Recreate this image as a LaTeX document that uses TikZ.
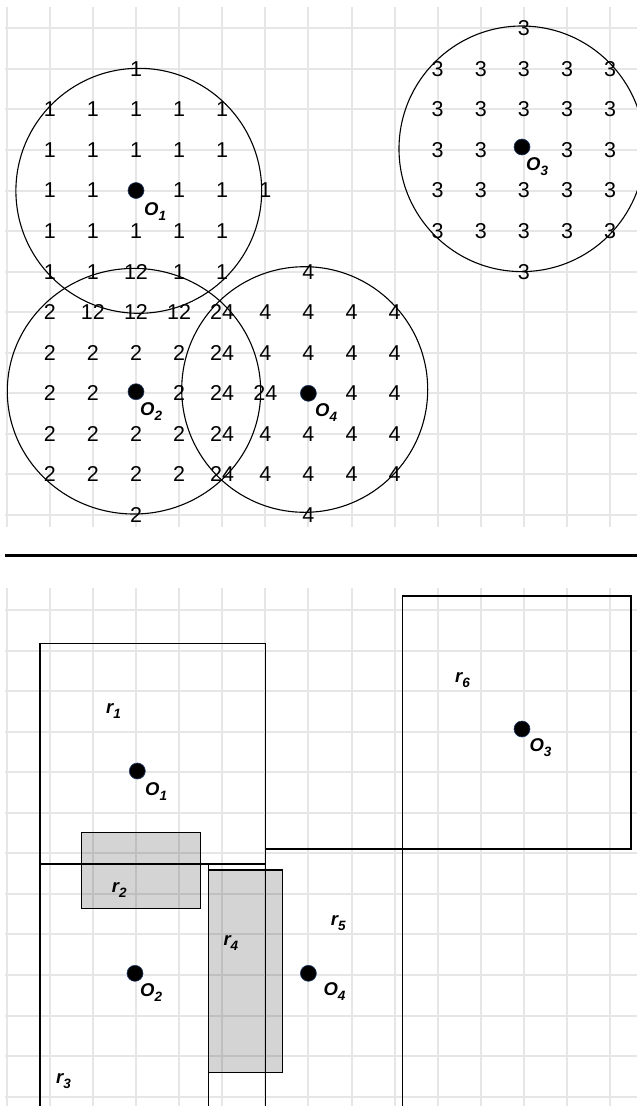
\documentclass[tikz,border=0pt]{standalone}
\usepackage{fontspec}
\setmainfont{Liberation Sans}
\definecolor{gridgray}{HTML}{E6E6E6}
\definecolor{dotblue}{HTML}{1F3A66}
\newcommand\lblsub[2]{{\fontsize{18.5}{18.5}\selectfont\bfseries\itshape #1\raisebox{-5pt}{\fontsize{13.5}{13.5}\selectfont #2}}}
\tikzset{
  gridline/.style={draw=gridgray, line width=2pt},
  cellnum/.style={font=\fontsize{21.5}{21.5}\selectfont, inner sep=0pt, anchor=center},
  ptdot/.style={circle, fill=black, draw=dotblue, line width=0.6pt, minimum size=16pt, inner sep=0pt},
  zone/.style={draw=black, line width=1.2pt},
  ring/.style={draw=black, line width=1.1pt},
  grayzone/.style={fill=black, fill opacity=0.17, draw=black, draw opacity=1, line width=1.2pt},
  lbltext/.style={inner sep=0pt, anchor=base west},
  sepline/.style={draw=black, line width=2.5pt},
}
\begin{document}
\begin{tikzpicture}[x=1pt,y=-1pt]
\useasboundingbox (0,0) rectangle (637,1106);
\clip (0,0) rectangle (637,1106);
% ---------- grids ----------
\foreach \k in {0,...,14}{
  \draw[gridline] ({6.7+43.1*\k},7) -- ({6.7+43.1*\k},527);
  \draw[gridline] ({6.7+43.1*\k},588.3) -- ({6.7+43.1*\k},1106);
}
\foreach \k in {0,...,12}{
  \draw[gridline] (5,{28.3+40.56*\k}) -- (637,{28.3+40.56*\k});
  \draw[gridline] (5,{610+40.56*\k}) -- (637,{610+40.56*\k});
}
% ---------- top: circles ----------
\draw[ring] (138.8,190.8) ellipse [x radius=122.9, y radius=122.5];
\draw[ring] (134,391.2) ellipse [x radius=126.7, y radius=122.8];
\draw[ring] (304.7,389.5) ellipse [x radius=123, y radius=122.8];
\draw[ring] (521.8,148.8) ellipse [x radius=122.8, y radius=122.8];
% ---------- top: numbers ----------
\foreach \c/\r/\t in {3/1/1,
  1/2/1,2/2/1,3/2/1,4/2/1,5/2/1,
  1/3/1,2/3/1,3/3/1,4/3/1,5/3/1,
  1/4/1,2/4/1,4/4/1,5/4/1,6/4/1,
  1/5/1,2/5/1,3/5/1,4/5/1,5/5/1,
  1/6/1,2/6/1,3/6/12,4/6/1,5/6/1,7/6/4,
  1/7/2,2/7/12,3/7/12,4/7/12,5/7/24,6/7/4,7/7/4,8/7/4,9/7/4,
  1/8/2,2/8/2,3/8/2,4/8/2,5/8/24,6/8/4,7/8/4,8/8/4,9/8/4,
  1/9/2,2/9/2,4/9/2,5/9/24,6/9/24,8/9/4,9/9/4,
  1/10/2,2/10/2,3/10/2,4/10/2,5/10/24,6/10/4,7/10/4,8/10/4,9/10/4,
  1/11/2,2/11/2,3/11/2,4/11/2,5/11/24,6/11/4,7/11/4,8/11/4,9/11/4,
  3/12/2,7/12/4,
  12/0/3,
  10/1/3,11/1/3,12/1/3,13/1/3,14/1/3,
  10/2/3,11/2/3,12/2/3,13/2/3,14/2/3,
  10/3/3,11/3/3,13/3/3,14/3/3,
  10/4/3,11/4/3,12/4/3,13/4/3,14/4/3,
  10/5/3,11/5/3,12/5/3,13/5/3,14/5/3,
  12/6/3}{
  \node[cellnum] (n-\c-\r) at ({6.7+43.1*\c},{28.3+40.56*\r}) {\t};
}
% ---------- top: points ----------
\node[ptdot] (tO1) at (136,190.5) {};
\node[ptdot] (tO2) at (136,391.7) {};
\node[ptdot] (tO3) at (522,147) {};
\node[ptdot] (tO4) at (308.4,393.3) {};
\node[lbltext] (ltO1) at (144,215) {\lblsub{O}{1}};
\node[lbltext] (ltO2) at (140,415) {\lblsub{O}{2}};
\node[lbltext] (ltO3) at (526,170) {\lblsub{O}{3}};
\node[lbltext] (ltO4) at (315,416.6) {\lblsub{O}{4}};
% ---------- separator ----------
\coordinate (sepL) at (5,555.7);
\coordinate (sepR) at (637,555.7);
\draw[sepline] (sepL) -- (sepR);
% ---------- bottom: regions ----------
\draw[zone] (40,1106) -- (40,643.3) -- (265.7,643.3) -- (265.7,1106);
\draw[zone] (40,864) -- (265.7,864);
\draw[zone] (208.3,864) -- (208.3,1106);
\draw[zone] (265.7,849) -- (631,849) -- (631,596) -- (402.3,596) -- (402.3,1106);
\draw[grayzone] (81.7,832.3) rectangle (200.7,908.3);
\draw[grayzone] (208.7,870) rectangle (282.5,1072.3);
% ---------- bottom: labels ----------
\node[lbltext] (lr1) at (106,713) {\lblsub{r}{1}};
\node[lbltext] (lr2) at (111.7,892.7) {\lblsub{r}{2}};
\node[lbltext] (lr3) at (56,1083.3) {\lblsub{r}{3}};
\node[lbltext] (lr4) at (223.3,945) {\lblsub{r}{4}};
\node[lbltext] (lr5) at (330.7,925) {\lblsub{r}{5}};
\node[lbltext] (lr6) at (455,682.7) {\lblsub{r}{6}};
% ---------- bottom: points ----------
\node[ptdot] (bO1) at (137.3,771) {};
\node[ptdot] (bO2) at (135,973.3) {};
\node[ptdot] (bO3) at (522,729) {};
\node[ptdot] (bO4) at (308.4,973.3) {};
\node[lbltext] (lbO1) at (145,795) {\lblsub{O}{1}};
\node[lbltext] (lbO2) at (140,996.6) {\lblsub{O}{2}};
\node[lbltext] (lbO3) at (529.3,751.6) {\lblsub{O}{3}};
\node[lbltext] (lbO4) at (323.3,995) {\lblsub{O}{4}};
\end{tikzpicture}
\end{document}
